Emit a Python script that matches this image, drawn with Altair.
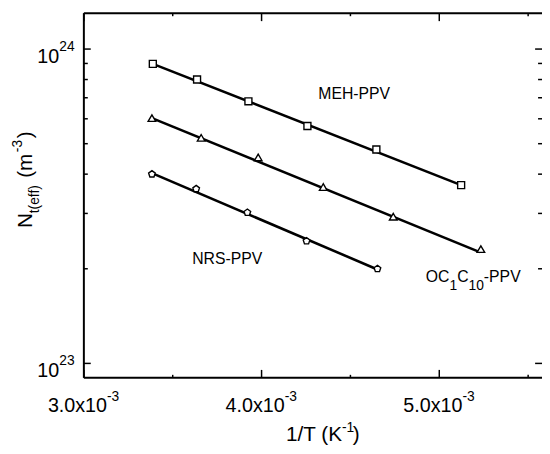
import altair as alt
import pandas as pd

# ---- data ----
series_names = ["MEH-PPV", "OC1C10-PPV", "NRS-PPV"]
x_meh = [3.388e-3, 3.637e-3, 3.926e-3, 4.258e-3, 4.646e-3, 5.123e-3]
y_meh = [8.97e23, 8.00e23, 6.82e23, 5.69e23, 4.79e23, 3.69e23]
x_oc = [3.383e-3, 3.660e-3, 3.981e-3, 4.347e-3, 4.741e-3, 5.234e-3]
y_oc = [6.03e23, 5.22e23, 4.52e23, 3.64e23, 2.93e23, 2.31e23]
x_nrs = [3.383e-3, 3.632e-3, 3.920e-3, 4.253e-3, 4.652e-3]
y_nrs = [4.00e23, 3.59e23, 3.02e23, 2.45e23, 2.00e23]

# fitted straight lines (end points)
fit_meh_x = [3.388e-3, 5.123e-3]
fit_meh_y = [8.97e23, 3.69e23]
fit_oc_x = [3.383e-3, 5.228e-3]
fit_oc_y = [6.03e23, 2.26e23]
fit_nrs_x = [3.383e-3, 4.652e-3]
fit_nrs_y = [4.03e23, 1.99e23]

# ticks and tick labels
x_major = [3.0e-3, 4.0e-3, 5.0e-3]
x_minor = [3.5e-3, 4.5e-3, 5.5e-3]
x_tick_base = ["3.0x10", "4.0x10", "5.0x10"]
x_tick_sup = "-3"
y_major = [1e23, 1e24]
y_minor = [k * 1e23 for k in range(2, 10)]
y_tick_base = ["10", "10"]
y_tick_sup = ["23", "24"]

# ---- layout ----
W, H = 465, 370
FONT = "Liberation Sans"
xs = alt.Scale(domain=[0.003, 0.005578], nice=False, zero=False)
ys = alt.Scale(type="log", domain=[9e22, 1.3e24], nice=False)

pts = pd.DataFrame({
    "x": x_meh + x_oc + x_nrs,
    "y": y_meh + y_oc + y_nrs,
    "s": [series_names[0]] * len(x_meh) + [series_names[1]] * len(x_oc) + [series_names[2]] * len(x_nrs),
})
fits = pd.DataFrame({
    "x": fit_meh_x + fit_oc_x + fit_nrs_x,
    "y": fit_meh_y + fit_oc_y + fit_nrs_y,
    "s": [series_names[0]] * 2 + [series_names[1]] * 2 + [series_names[2]] * 2,
})
one = pd.DataFrame({"a": [0]})

X = alt.X("x:Q", scale=xs, axis=None)
Y = alt.Y("y:Q", scale=ys, axis=None)

layers = []

# fit lines
layers.append(
    alt.Chart(fits).mark_line(color="black", strokeWidth=2.6)
    .encode(x=X, y=Y, detail="s:N")
)

shapes = {
    "MEH-PPV": ("square", 50),
    "OC1C10-PPV": ("triangle-up", 60),
    "NRS-PPV": ("M0,-1L0.951,-0.309L0.588,0.809L-0.588,0.809L-0.951,-0.309Z", 50),
}
for name in series_names:
    shp, sz = shapes[name]
    layers.append(
        alt.Chart(pts[pts.s == name]).mark_point(
            shape=shp, size=sz, filled=True, fill="white", stroke="black",
            strokeWidth=1.4, opacity=1
        ).encode(x=X, y=Y)
    )

# frame (left, bottom, top; right edge lies at window border)
layers.append(alt.Chart(one).mark_rule(color="black", strokeWidth=2)
              .encode(x=alt.value(0), y=alt.value(0), y2=alt.value(H)))
layers.append(alt.Chart(one).mark_rule(color="black", strokeWidth=2)
              .encode(x=alt.value(0), x2=alt.value(W), y=alt.value(H)))
layers.append(alt.Chart(one).mark_rule(color="black", strokeWidth=2)
              .encode(x=alt.value(0), x2=alt.value(W), y=alt.value(0)))

# ticks (all pointing inward)
xmaj = pd.DataFrame({"v": x_major})
xmin = pd.DataFrame({"v": x_minor})
ymaj = pd.DataFrame({"v": y_major})
ymin = pd.DataFrame({"v": y_minor})
XV = alt.X("v:Q", scale=xs, axis=None)
YV = alt.Y("v:Q", scale=ys, axis=None)
tk = dict(color="black", strokeWidth=1.5)
layers += [
    alt.Chart(xmaj).mark_rule(**tk).encode(x=XV, y=alt.value(H), y2=alt.value(H - 8)),
    alt.Chart(xmin).mark_rule(**tk).encode(x=XV, y=alt.value(H), y2=alt.value(H - 3)),
    alt.Chart(xmaj).mark_rule(**tk).encode(x=XV, y=alt.value(0), y2=alt.value(8)),
    alt.Chart(xmin).mark_rule(**tk).encode(x=XV, y=alt.value(0), y2=alt.value(3)),
    alt.Chart(ymaj).mark_rule(**tk).encode(y=YV, x=alt.value(0), x2=alt.value(7)),
    alt.Chart(ymin).mark_rule(**tk).encode(y=YV, x=alt.value(0), x2=alt.value(4)),
    alt.Chart(ymaj).mark_rule(**tk).encode(y=YV, x=alt.value(W), x2=alt.value(W - 7)),
    alt.Chart(ymin).mark_rule(**tk).encode(y=YV, x=alt.value(W), x2=alt.value(W - 4)),
]

# tick labels
xl = pd.DataFrame({"v": x_major, "t": x_tick_base})
layers.append(alt.Chart(xl).mark_text(font=FONT, fontSize=20, align="right", dx=23.5, color="black")
              .encode(x=XV, y=alt.value(H + 29), text="t:N"))
layers.append(alt.Chart(xl).mark_text(font=FONT, fontSize=14, align="left", dx=23.5, color="black", text=x_tick_sup)
              .encode(x=XV, y=alt.value(H + 20)))
yl = pd.DataFrame({"v": y_major, "t": y_tick_base, "s": y_tick_sup})
layers.append(alt.Chart(yl).mark_text(font=FONT, fontSize=20, align="right", dy=8, color="black")
              .encode(y=YV, x=alt.value(-25), text="t:N"))
layers.append(alt.Chart(yl).mark_text(font=FONT, fontSize=14, align="left", dy=-2, color="black")
              .encode(y=YV, x=alt.value(-25), text="s:N"))


def txt(s, x, y, size, align="left", angle=0):
    return alt.Chart(one).mark_text(
        text=s, font=FONT, fontSize=size, align=align, angle=angle,
        baseline="alphabetic", color="black"
    ).encode(x=alt.value(x), y=alt.value(y))


# x axis title: 1/T (K^-1)
layers += [
    txt("1/T (K", 262, H + 64, 21, align="right"),
    txt("-1", 262, H + 55, 14),
    txt(")", 273, H + 64, 21),
]
# y axis title: N_t(eff) (m^-3), rotated
layers += [
    txt("N", -53, 218, 21, angle=270),
    txt("t(eff)", -46, 203, 14, angle=270),
    txt("(m", -53, 167, 21, angle=270),
    txt("-3", -63, 141, 14, angle=270),
    txt(")", -53, 127, 21, angle=270),
]
# series annotations
layers += [
    txt("MEH-PPV", 238, 87, 16),
    txt("NRS-PPV", 110, 255, 16),
    txt("OC", 347, 273, 16),
    txt("1", 371, 281, 14),
    txt("C", 379, 273, 16),
    txt("10", 390.5, 281, 14),
    txt("-PPV", 406, 273, 16),
]

chart = alt.layer(*layers).properties(
    width=W, height=H,
    autosize=alt.AutoSizeParams(type="none"),
    padding={"left": 77, "top": 2, "right": 0, "bottom": 72},
).configure_view(stroke=None)

chart.save("out.html", embed_options={"renderer": "svg", "actions": False})
